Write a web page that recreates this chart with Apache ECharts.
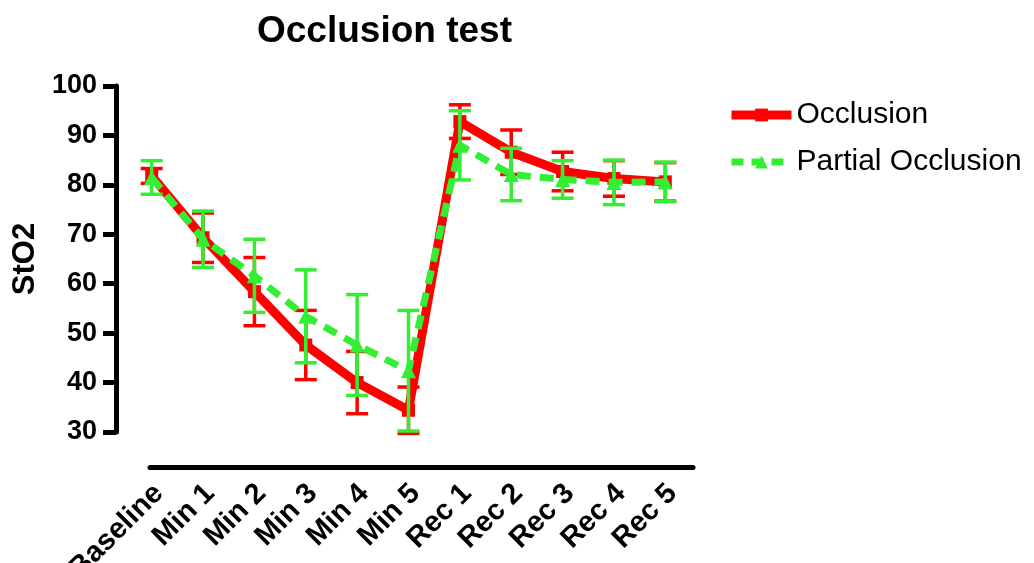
<!DOCTYPE html>
<html>
<head>
<meta charset="utf-8">
<script src="https://cdn.jsdelivr.net/npm/echarts@6/dist/echarts.min.js"></script>
<style>html,body{margin:0;padding:0;background:#fff}#c{width:1034px;height:563px}</style>
</head>
<body>
<div id="c"></div>
<script>
const categories = ['Baseline','Min 1','Min 2','Min 3','Min 4','Min 5','Rec 1','Rec 2','Rec 3','Rec 4','Rec 5'];
const occlusionMean = [81.8, 69.3, 58.4, 47.6, 40.0, 34.4, 92.8, 86.6, 82.7, 81.3, 80.6];
const occlusionErr  = [1.5, 5.0, 6.9, 7.0, 6.3, 4.7, 3.4, 4.5, 3.9, 3.6, 3.9];
const partialMean   = [81.5, 69.0, 61.6, 53.4, 47.6, 42.4, 88.0, 82.1, 81.1, 80.5, 80.6];
const partialErr    = [3.4, 5.7, 7.4, 9.4, 10.2, 12.2, 7.0, 5.3, 3.8, 4.5, 4.0];
const yTicks = [30, 40, 50, 60, 70, 80, 90, 100];

const RED = '#ff0000';
const GREEN = '#33ee33';
const FONT = 'Liberation Sans, Arial, sans-serif';

function errData(mean, err) {
  return mean.map((m, i) => [i, m - err[i], m + err[i]]);
}
function errRender(color, width) {
  return function (params, api) {
    const x = api.value(0);
    const lo = api.coord([x, api.value(1)]);
    const hi = api.coord([x, api.value(2)]);
    const hw = 11;
    const style = { stroke: color, lineWidth: width, fill: null };
    return {
      type: 'group',
      children: [
        { type: 'line', shape: { x1: hi[0], y1: hi[1], x2: lo[0], y2: lo[1] }, style },
        { type: 'line', shape: { x1: hi[0] - hw, y1: hi[1], x2: hi[0] + hw, y2: hi[1] }, style },
        { type: 'line', shape: { x1: lo[0] - hw, y1: lo[1], x2: lo[0] + hw, y2: lo[1] }, style }
      ]
    };
  };
}

const chart = echarts.init(document.getElementById('c'), null, { renderer: 'canvas' });
chart.setOption({
  animation: false,
  backgroundColor: '#ffffff',
  title: {
    text: 'Occlusion test',
    left: 252, top: 8,
    textStyle: { fontFamily: FONT, fontWeight: 'bold', fontSize: 37, color: '#000' }
  },
  legend: {
    orient: 'vertical',
    left: 722, top: 95,
    itemWidth: 60, itemHeight: 16, itemGap: 17,
    textStyle: { fontFamily: FONT, fontSize: 30, color: '#000' },
    data: [
      { name: 'Occlusion', lineStyle: { width: 9 } },
      { name: 'Partial Occlusion', lineStyle: { width: 7, type: [12, 8] } }
    ]
  },
  grid: [
    { left: 126, width: 565, top: 86, height: 346, outerBoundsMode: 'none', containLabel: false },
    { left: 150, width: 543, top: 86, height: 346, outerBoundsMode: 'none', containLabel: false }
  ],
  xAxis: [
    {
      type: 'category', gridIndex: 0, data: categories, boundaryGap: true,
      axisLine: { show: false }, axisTick: { show: false },
      axisLabel: { rotate: 45, margin: 64, padding: [0, -10, 0, 0], interval: 0, fontFamily: FONT, fontWeight: 'bold', fontSize: 29, color: '#000' }
    },
    {
      type: 'value', gridIndex: 1, min: 0, max: 1, offset: 35, position: 'bottom',
      axisLine: { show: true, onZero: false, lineStyle: { color: '#000', width: 5 } },
      axisTick: { show: false }, axisLabel: { show: false }, splitLine: { show: false }
    }
  ],
  yAxis: [
    {
      type: 'value', gridIndex: 0, min: yTicks[0], max: yTicks[yTicks.length - 1], interval: 10, offset: 10,
      name: 'StO2', nameLocation: 'middle', nameGap: 64,
      nameTextStyle: { fontFamily: FONT, fontWeight: 'bold', fontSize: 31, color: '#000' },
      axisLine: { show: true, lineStyle: { color: '#000', width: 5 } },
      axisTick: { show: true, length: 13, lineStyle: { color: '#000', width: 5 } },
      axisLabel: { margin: 19, fontFamily: FONT, fontWeight: 'bold', fontSize: 27, color: '#000' },
      splitLine: { show: false }
    },
    { type: 'value', gridIndex: 1, show: false, min: 0, max: 1 }
  ],
  series: [
    {
      type: 'line', name: 'Occlusion', xAxisIndex: 0, yAxisIndex: 0,
      data: occlusionMean, symbol: 'rect', symbolSize: 13,
      lineStyle: { color: RED, width: 9 }, itemStyle: { color: RED }, z: 3
    },
    {
      type: 'line', name: 'Partial Occlusion', xAxisIndex: 0, yAxisIndex: 0,
      data: partialMean, symbol: 'triangle', symbolSize: 15,
      lineStyle: { color: GREEN, width: 7, type: [14, 9] }, itemStyle: { color: GREEN }, z: 5
    },
    {
      type: 'custom', name: 'Occlusion SEM', xAxisIndex: 0, yAxisIndex: 0,
      data: errData(occlusionMean, occlusionErr), renderItem: errRender(RED, 3.5),
      clip: false, z: 2, encode: { x: 0, y: [1, 2] }, silent: true
    },
    {
      type: 'custom', name: 'Partial Occlusion SEM', xAxisIndex: 0, yAxisIndex: 0,
      data: errData(partialMean, partialErr), renderItem: errRender(GREEN, 3.5),
      clip: false, z: 4, encode: { x: 0, y: [1, 2] }, silent: true
    }
  ]
});
</script>
</body>
</html>
